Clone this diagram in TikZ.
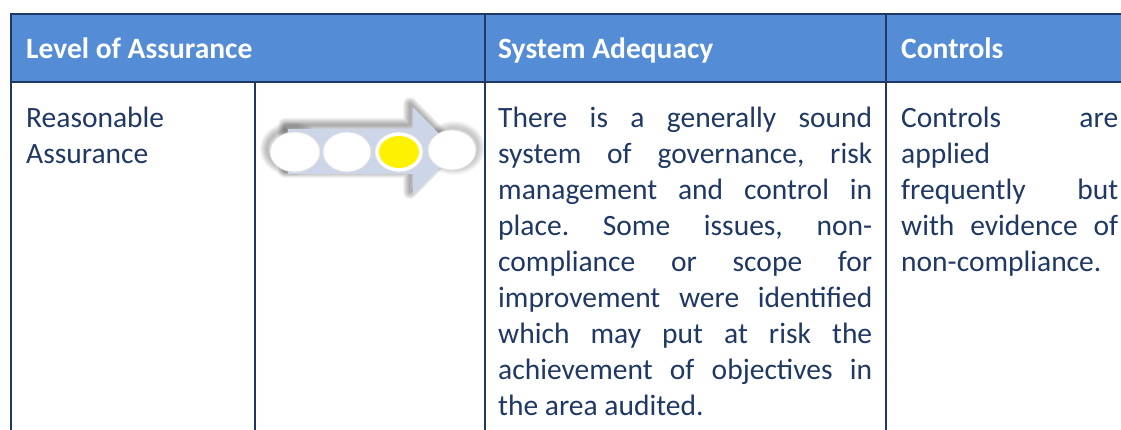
\documentclass[tikz,border=0pt]{standalone}
\usepackage{fontspec}
\setmainfont{Carlito}
\frenchspacing
\usetikzlibrary{shapes.geometric}
\definecolor{txtblue}{RGB}{31,56,100}
\definecolor{hdrblue}{RGB}{84,141,213}
\definecolor{arrowblue}{RGB}{205,213,232}
\definecolor{lampyellow}{RGB}{255,242,0}
\tikzset{
  cellhead/.style={anchor=base west, inner sep=0pt, text=white, font=\fontsize{29.5}{35.9}\selectfont\bfseries},
  cellbody/.style={anchor=base west, inner sep=0pt, text=txtblue, font=\fontsize{29.5}{35.9}\selectfont\frenchspacing, align=justify},
  rule/.style={draw=txtblue, line width=2pt},
  lamp/.style={ellipse, draw=black!12, line width=0.8pt, fill=white, inner sep=0pt},
}
\begin{document}
\begin{tikzpicture}[x=1pt,y=-1pt]
\useasboundingbox (0,0) rectangle (1121,430);
\fill[white] (0,0) rectangle (1121,430);
% header band
\fill[hdrblue] (11,14) rectangle (1125,82);
% rules
\draw[rule] (11,14) -- (1125,14);
\draw[rule] (11,82) -- (1125,82);
\draw[rule] (11,13) -- (11,435);
\draw[rule] (255,82) -- (255,435);
\draw[rule] (485,13) -- (485,435);
\draw[rule] (886,13) -- (886,435);
% header texts
\node[cellhead] (h1) at (26,59) {Level of Assurance};
\node[cellhead] (h2) at (498,59) {System Adequacy};
\node[cellhead] (h3) at (901,59) {Controls};
% body texts
\node[cellbody, text width=220pt, align=left] (b1) at (26,128) {Reasonable\\Assurance};
\node[cellbody, text width=374pt] (b2) at (498,128) {There is a generally sound\linebreak system of governance, risk\linebreak management and control in\linebreak place. Some issues, non-\linebreak compliance or scope for\linebreak improvement were identified\linebreak which may put at risk the\linebreak achievement of objectives in\linebreak the area audited.};
\node[cellbody, text width=217pt] (b3) at (901,128) {Controls are\linebreak applied\hfill\linebreak frequently but\linebreak with evidence of\linebreak non-compliance.};
% arrow shadow
\foreach \w in {2,4,6,8,10,12,14} {
  \draw[black, opacity=0.05, line width=\w pt, line join=round]
    (285,125) -- (410,125) -- (410,104) -- (453,148) -- (410,192) -- (410,171) -- (285,171) -- cycle;
  \draw[black, opacity=0.04, line width=\w pt] (292,149) ellipse (25 and 20);
  \draw[black, opacity=0.03, line width=\w pt] (454,148) ellipse (24 and 20);
}
% arrow
\fill[arrowblue] (288,129) -- (413,129) -- (413,107) -- (456,151) -- (413,195) -- (413,174) -- (288,174) -- cycle;
% lamps
\node[lamp, minimum width=50pt, minimum height=40pt] (l1) at (295,152) {};
\node[lamp, minimum width=48pt, minimum height=40pt] (l2) at (347,152) {};
\node[lamp, minimum width=48pt, minimum height=40pt] (l3) at (399,152) {};
\node[ellipse, fill=lampyellow, inner sep=0pt, minimum width=40pt, minimum height=32pt] (l3y) at (l3) {};
\node[lamp, minimum width=48pt, minimum height=40pt] (l4) at (452,150) {};
\end{tikzpicture}
\end{document}
